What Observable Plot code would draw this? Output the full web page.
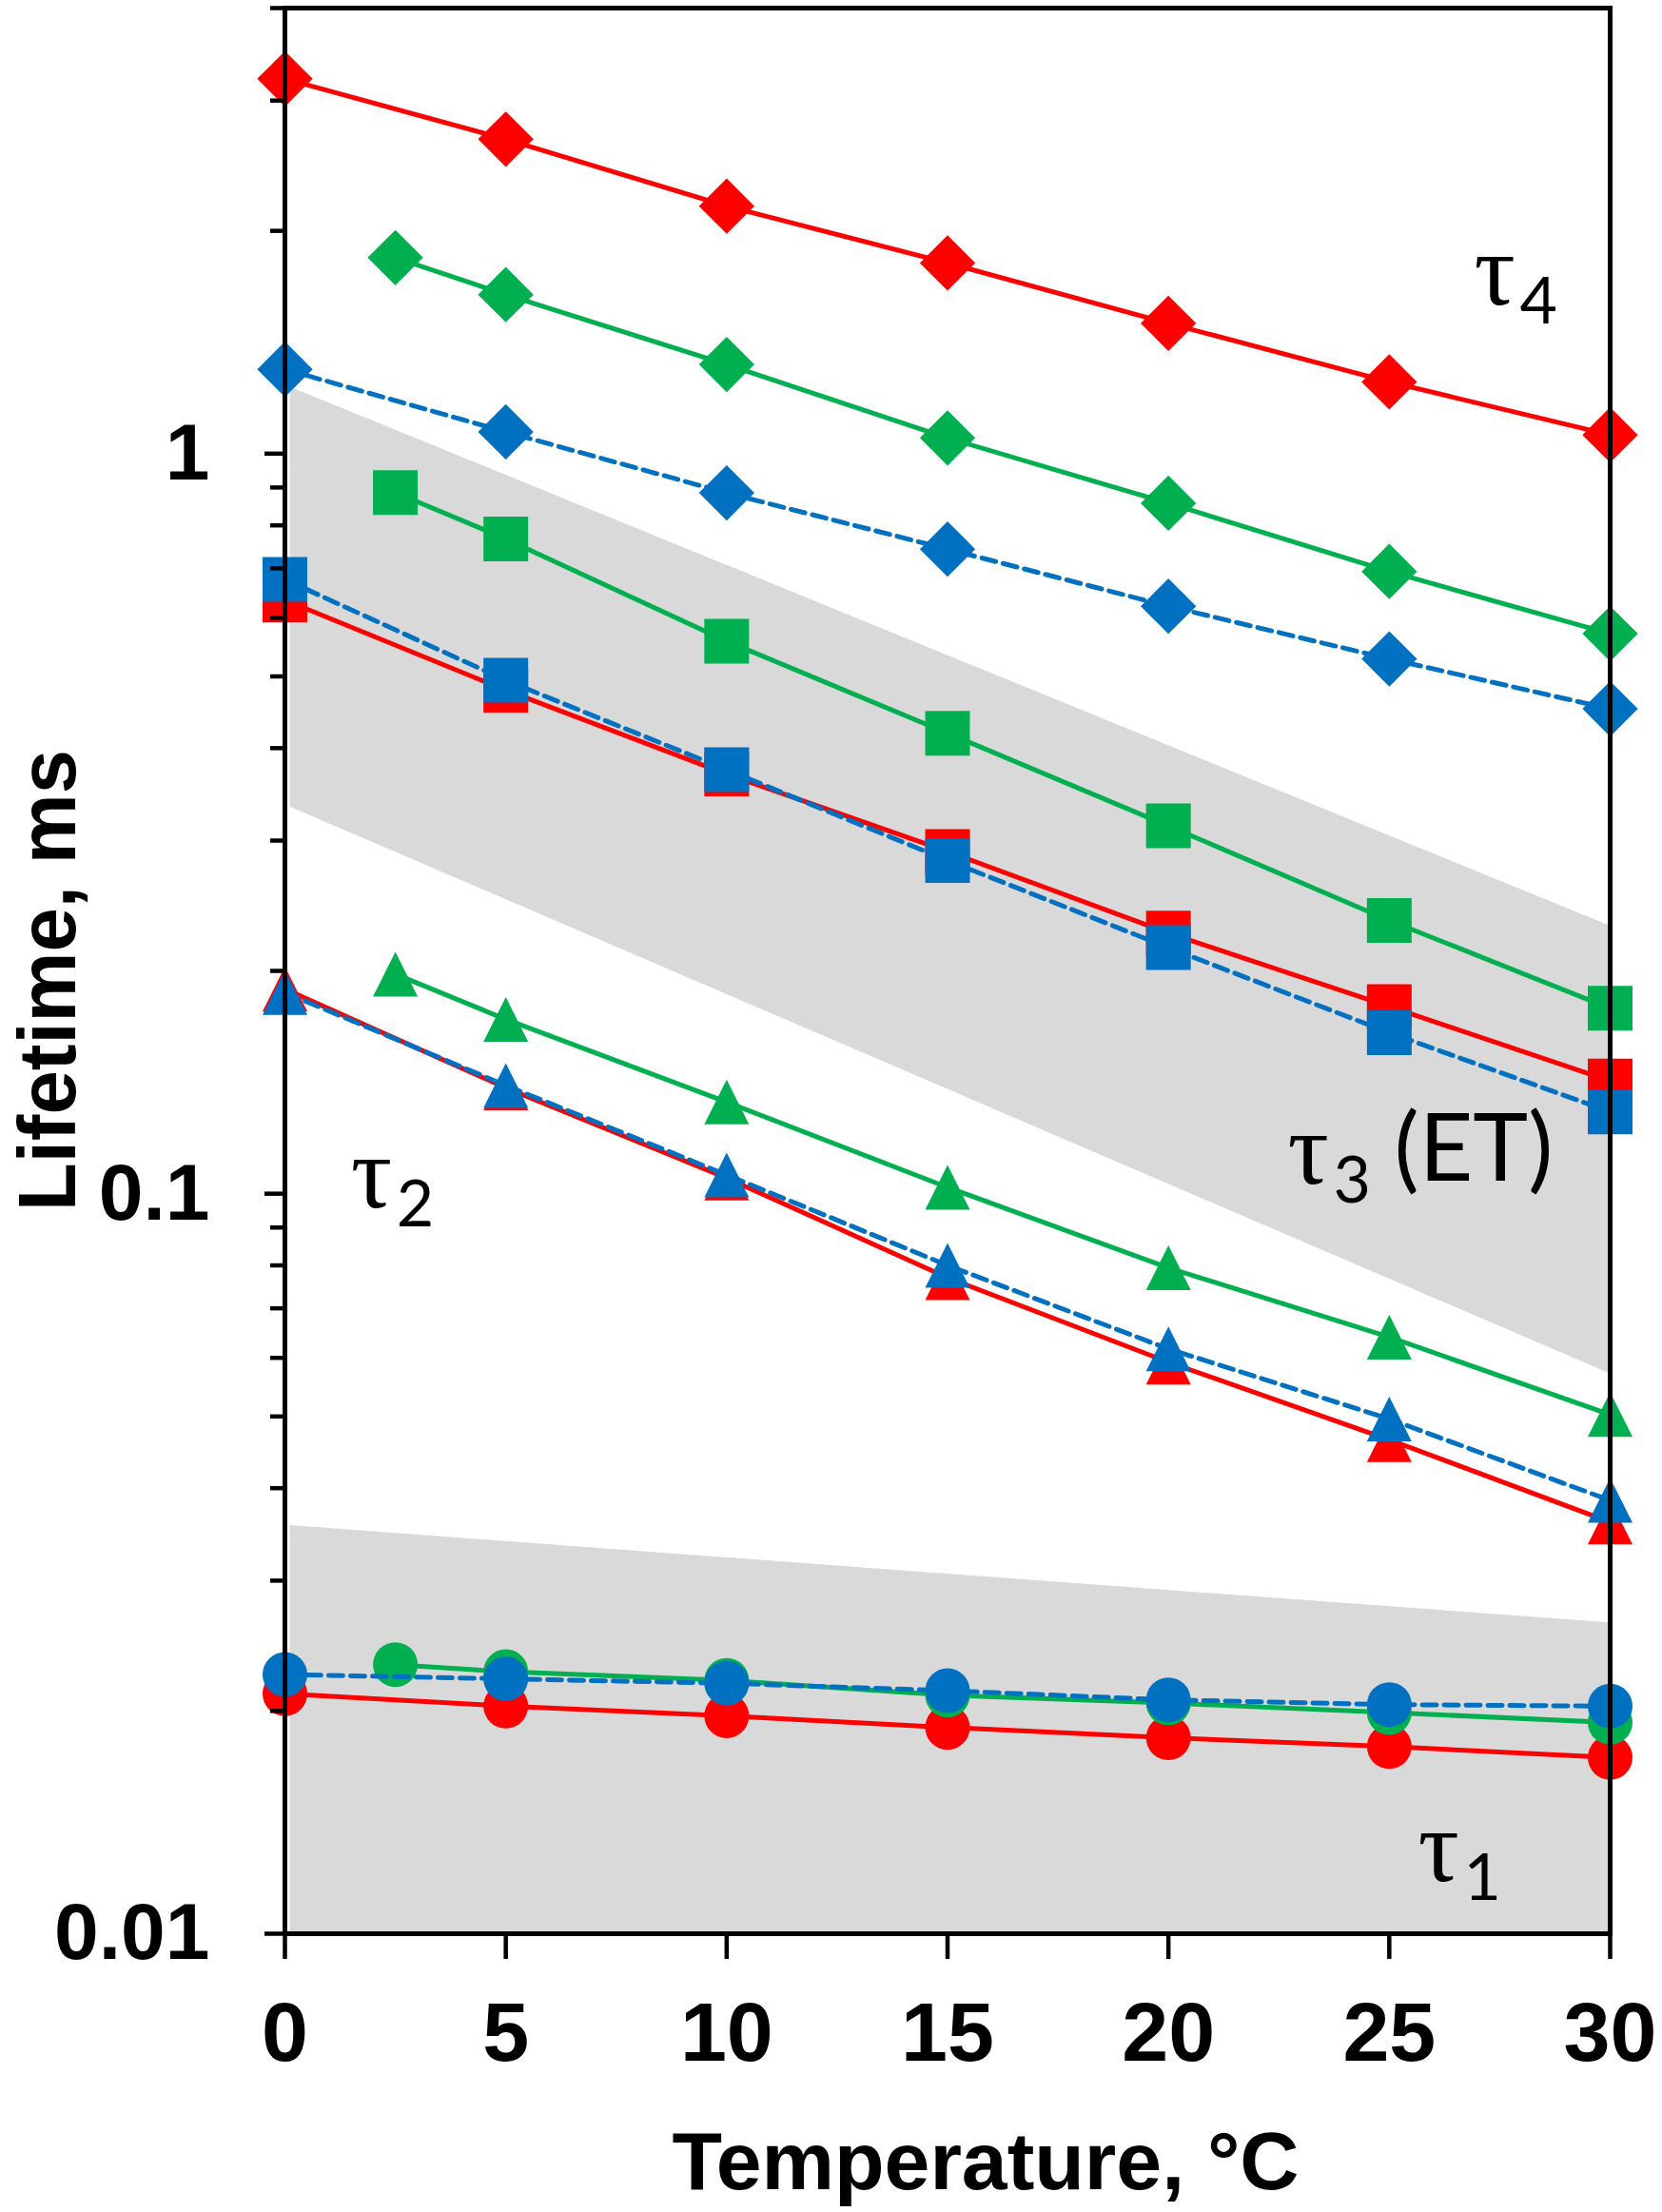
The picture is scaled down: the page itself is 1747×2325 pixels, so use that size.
<!DOCTYPE html>
<html><head><meta charset="utf-8">
<script src="https://cdn.jsdelivr.net/npm/d3@7"></script>
<script src="https://cdn.jsdelivr.net/npm/@observablehq/plot@0.6"></script>
<style>body{margin:0;background:#fff}</style>
</head><body><div id="chart"></div>
<script>
// ---- data ----
const temps = [0, 5, 10, 15, 20, 25, 30];
const tempsGreen = [2.5, 5, 10, 15, 20, 25, 30];

const tau4Red   = [3.21, 2.66, 2.16, 1.81, 1.50, 1.25, 1.06];
const tau4Green = [1.84, 1.64, 1.32, 1.05, 0.857, 0.693, 0.571];
const tau4Blue  = [1.30, 1.07, 0.885, 0.743, 0.622, 0.528, 0.452];

const tau3Red   = [0.634, 0.479, 0.369, 0.290, 0.225, 0.179, 0.142];
const tau3Green = [0.886, 0.767, 0.558, 0.419, 0.314, 0.234, 0.178];
const tau3Blue  = [0.676, 0.494, 0.374, 0.282, 0.215, 0.165, 0.129];

const tau2Red   = [0.189, 0.139, 0.105, 0.077, 0.0592, 0.0465, 0.036];
const tau2Green = [0.198, 0.172, 0.133, 0.102, 0.0794, 0.064, 0.0503];
const tau2Blue  = [0.187, 0.140, 0.106, 0.080, 0.0617, 0.0496, 0.0385];

const tau1Red   = [0.0211, 0.0203, 0.0197, 0.0190, 0.0184, 0.0179, 0.0173];
const tau1Green = [0.0231, 0.0226, 0.0220, 0.0210, 0.0205, 0.0199, 0.0193];
const tau1Blue  = [0.0224, 0.0221, 0.0218, 0.0213, 0.0207, 0.0204, 0.0203];

const bandX = [0.12, 30];
const bandTau3Top = [1.23, 0.230];
const bandTau3Bottom = [0.333, 0.0571];
const bandTau1Top = [0.0356, 0.0263];
const bandTau1Bottom = [0.01, 0.01];

const xTicks = [0, 5, 10, 15, 20, 25, 30];
const yMajorTicks = [0.01, 0.1, 1];
const yMinorTicks = [0.02,0.03,0.04,0.05,0.06,0.07,0.08,0.09,0.2,0.3,0.4,0.5,0.6,0.7,0.8,0.9,2,3,4];

const tauSymbols = ["τ", "τ", "τ", "τ"];
const tauSubs = ["4", "3", "2", "1"];
const tauX = [26.92, 22.70, 1.49, 25.65];
const tauY = [1.592, 0.1033, 0.0959, 0.01177];
const etText = ["(ET)"];

const xLabel = "Temperature, °C";
const yLabel = "Lifetime, ms";

// ---- styles ----
const RED = "#FF0000", GREEN = "#00B050", BLUE = "#0070C0", GREY = "#D9D9D9";
const R = 23.5;
const rad = (size) => Math.sqrt(size / Math.PI);
const diamondSym = {draw(c, s) { const d = rad(s) * 1.24; c.moveTo(0, -d); c.lineTo(d, 0); c.lineTo(0, d); c.lineTo(-d, 0); c.closePath(); }};
const squareSym = {draw(c, s) { const r = rad(s); c.moveTo(-r, -r); c.lineTo(r, -r); c.lineTo(r, r); c.lineTo(-r, r); c.closePath(); }};
const triSym = {draw(c, s) { const r = rad(s); c.moveTo(0, -r); c.lineTo(r, r); c.lineTo(-r, r); c.closePath(); }};
const circleSym = {draw(c, s) { const r = rad(s); c.moveTo(r, 0); c.arc(0, 0, r, 0, 2 * Math.PI); c.closePath(); }};

const rows = (xs, ys) => xs.map((x, i) => ({x, y: ys[i]}));
const bandRows = (top, bottom) => bandX.map((x, i) => ({x, y1: bottom[i], y2: top[i]}));

function series(xs, ys, color, sym, dashed) {
  const d = rows(xs, ys);
  return [
    Plot.line(d, {x: "x", y: "y", stroke: color, strokeWidth: 5, strokeDasharray: dashed ? "15,8" : null}),
    Plot.dot(d, {x: "x", y: "y", fill: color, r: R, symbol: sym})
  ];
}

const SANS = "Liberation Sans, Arial, sans-serif";

const marks = [
  Plot.areaY(bandRows(bandTau3Top, bandTau3Bottom), {x: "x", y1: "y1", y2: "y2", fill: GREY}),
  Plot.areaY(bandRows(bandTau1Top, bandTau1Bottom), {x: "x", y1: "y1", y2: "y2", fill: GREY}),
  // red series
  ...series(temps, tau4Red, RED, diamondSym, false),
  ...series(temps, tau3Red, RED, squareSym, false),
  ...series(temps, tau2Red, RED, triSym, false),
  ...series(temps, tau1Red, RED, circleSym, false),
  // green series
  ...series(tempsGreen, tau4Green, GREEN, diamondSym, false),
  ...series(tempsGreen, tau3Green, GREEN, squareSym, false),
  ...series(tempsGreen, tau2Green, GREEN, triSym, false),
  ...series(tempsGreen, tau1Green, GREEN, circleSym, false),
  // blue series (dashed)
  ...series(temps, tau4Blue, BLUE, diamondSym, true),
  ...series(temps, tau3Blue, BLUE, squareSym, true),
  ...series(temps, tau2Blue, BLUE, triSym, true),
  ...series(temps, tau1Blue, BLUE, circleSym, true),
  Plot.frame({stroke: "black", strokeWidth: 5}),
  Plot.axisX({ticks: xTicks, tickSize: 27, tickPadding: 44, strokeWidth: 4.5, tickFormat: d => String(d),
    fontSize: 88, fontWeight: "bold", fontFamily: SANS, fill: "black", label: null}),
  Plot.axisY({ticks: yMajorTicks, tickSize: 21, tickPadding: 58, strokeWidth: 4.5, tickFormat: d => String(d),
    fontSize: 84, fontWeight: "bold", fontFamily: SANS, fill: "black", label: null}),
  Plot.axisY({ticks: yMinorTicks, tickSize: 15, strokeWidth: 4.5, tickFormat: () => "", label: null}),
  // tau labels
  Plot.text(tauSymbols, {x: (d, i) => tauX[i], y: (d, i) => tauY[i], text: d => d, textAnchor: "start", lineAnchor: "bottom",
    fontSize: 108, fontFamily: "Liberation Serif, Times New Roman, serif", fill: "black"}),
  Plot.text(tauSubs, {x: (d, i) => tauX[i], y: (d, i) => tauY[i], text: d => d, textAnchor: "start", lineAnchor: "bottom",
    dx: 48, dy: 20, fontSize: 68, fontFamily: "Lato, Open Sans, sans-serif", fill: "black"}),
  Plot.text(etText, {x: () => tauX[1], y: () => tauY[1], text: d => d, textAnchor: "start", lineAnchor: "bottom",
    dx: 112, dy: -3, fontSize: 98, fontFamily: "Lato, Open Sans, sans-serif", fill: "black"}),
  // axis titles
  Plot.text([xLabel], {frameAnchor: "bottom", text: d => d, textAnchor: "middle", lineAnchor: "bottom", dx: 40, dy: 268,
    fontSize: 86, fontWeight: "bold", fontFamily: SANS, fill: "black"}),
  Plot.text([yLabel], {frameAnchor: "left", text: d => d, rotate: -90, textAnchor: "middle", lineAnchor: "bottom", dx: -221, dy: 10,
    fontSize: 86, fontWeight: "bold", fontFamily: SANS, fill: "black"})
];

const chart = Plot.plot({
  width: 1747,
  height: 2325,
  marginLeft: 299,
  marginRight: 55,
  marginTop: 8,
  marginBottom: 293,
  style: {background: "white", overflow: "visible"},
  x: {domain: [0, 30]},
  y: {type: "log", domain: [0.01, 4]},
  marks
});
// condense the y-axis title slightly, as in the reference
d3.select(chart).selectAll("text").filter(function() { return this.textContent === yLabel; })
  .attr("textLength", 485).attr("lengthAdjust", "spacingAndGlyphs");
document.getElementById("chart").appendChild(chart);
</script>
</body></html>
